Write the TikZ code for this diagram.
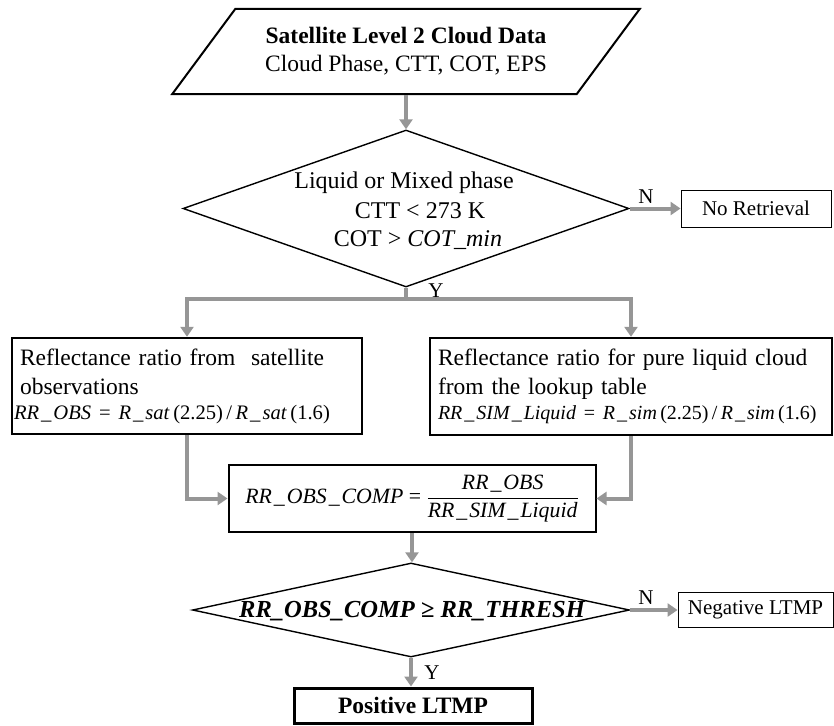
\documentclass[tikz,border=0pt]{standalone}
\usepackage{fontspec}
\setmainfont{Liberation Serif}
\usetikzlibrary{shapes.geometric,arrows.meta}
\definecolor{arrgray}{RGB}{150,150,150}
\newcommand\us{\hspace{2pt}\_\hspace{2pt}}
\newcommand\eqfont{\fontsize{20.6}{24}\selectfont}
\newcommand\eqfontb{\fontsize{20}{24}\selectfont}
\begin{document}
\begin{tikzpicture}[x=1pt,y=-1pt,
  garrow/.style={draw=arrgray, line width=4pt, -{Triangle[width=13pt,length=10pt]}},
  gline/.style={draw=arrgray, line width=4pt},
  diam/.style={draw, diamond, line width=1.4pt, inner sep=0pt},
  thinbox/.style={draw, line width=0.9pt, inner sep=0pt, font=\fontsize{21}{24}\selectfont},
  thickbox/.style={draw, line width=2.4pt, inner xsep=8pt, inner ysep=0pt, align=left, font=\fontsize{23.5}{29}\selectfont},
  lab/.style={inner sep=0pt, font=\fontsize{21}{24}\selectfont},
  dtext/.style={inner sep=0pt, font=\fontsize{24}{28}\selectfont}]
\useasboundingbox (0,0) rectangle (834,725);

% source parallelogram
\node[draw, line width=2pt, trapezium, trapezium left angle=42.7, trapezium right angle=137.3,
  trapezium stretches=true, minimum width=470pt, minimum height=85pt, inner sep=0pt,
  align=center, font=\fontsize{23.5}{28}\selectfont] (src) at (406,51.5)
  {{\bfseries Satellite Level 2 Cloud Data}\\Cloud Phase, CTT, COT, EPS};

% decision 1
\node[diam, minimum width=446pt, minimum height=157pt] (d1) at (406,208.5) {};
\node[dtext] (d1a) at (404,183) {Liquid or Mixed phase};
\node[dtext] (d1b) at (420,211) {CTT < 273 K};
\node[dtext] (d1c) at (418,240) {COT > \textit{COT\_min}};

\node[thinbox, minimum width=150pt, minimum height=37pt] (nr) at (756,208.5) {No Retrieval};

% reflectance boxes
\node[thickbox, text width=334pt, minimum height=96pt] (L) at (187,386)
  {Reflectance ratio from\ \ satellite\\observations\\[-4pt]
   \hspace*{-6pt}\mbox{\eqfont\textit{RR\us OBS} = \textit{R\us sat}\,(2.25)\,/\,\textit{R\us sat}\,(1.6)}};
\node[thickbox, text width=386pt, minimum height=97pt] (R) at (631,386.5)
  {Reflectance ratio for pure liquid cloud\\from the lookup table\\[-4pt]
   \makebox[0pt][l]{\eqfontb\textit{RR\us SIM\us Liquid} = \textit{R\us sim}\,(2.25)\,/\,\textit{R\us sim}\,(1.6)}};

% combination box
\node[draw, line width=2pt, inner sep=0pt, minimum width=367pt, minimum height=67pt,
  font=\fontsize{21.8}{24}\selectfont] (M) at (412,498.5)
  {\raisebox{-5pt}{$\mbox{\textit{RR\us OBS\us COMP} = }\displaystyle\frac{\mbox{\textit{RR\us OBS}}}{\mbox{\textit{RR\us SIM\us Liquid}}}$}};

% decision 2
\node[diam, minimum width=437pt, minimum height=94pt] (d2) at (411,610) {};
\node[inner sep=0pt, font=\fontsize{24.5}{28}\selectfont\bfseries\itshape] (d2t) at (412,611)
  {RR\_OBS\_COMP ≥ RR\_THRESH};

\node[thinbox, minimum width=155pt, minimum height=35pt] (neg) at (755.5,610) {Negative LTMP};
\node[draw, line width=3pt, inner sep=0pt, minimum width=238pt, minimum height=35pt,
  font=\fontsize{23.5}{28}\selectfont\bfseries] (pos) at (413,705.5) {Positive LTMP};

% connectors
\coordinate (br) at (406,299);
\draw[garrow] (src.south -| d1.north) -- (d1.north);
\draw[garrow] (d1.east) -- (nr.west);
\draw[gline] (d1.south) -- (br);
\draw[garrow] (br) -| (L.north);
\draw[garrow] (br) -| (R.north);
\draw[garrow] (L.south) |- (M.west);
\draw[garrow] (R.south) |- (M.east);
\draw[garrow] (M.south) -- (M.south |- d2.north);
\draw[garrow] (d2.east) -- (neg.west);
\draw[garrow] (d2.south) -- (d2.south |- pos.north);

% labels
\node[lab] (n1) at (646,197) {N};
\node[lab] (y1) at (436,291) {Y};
\node[lab] (n2) at (646,598) {N};
\node[lab] (y2) at (432,673) {Y};
\end{tikzpicture}
\end{document}
